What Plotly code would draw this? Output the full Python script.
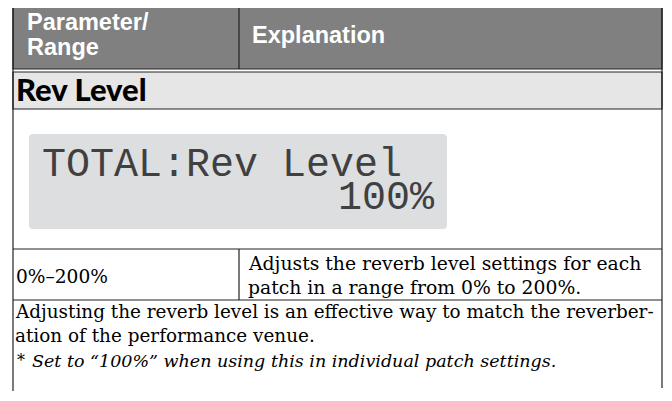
import plotly.graph_objects as go

# ---- content ----
header_labels = ["Parameter/", "Range", "Explanation"]
section_title = "Rev Level"
lcd_lines = ["TOTAL:Rev Level", "100%"]
range_value = "0%–200%"
range_explanation = ["Adjusts the reverb level settings for each",
                     "patch in a range from 0% to 200%."]
note_lines = ["Adjusting the reverb level is an effective way to match the reverber-",
              "ation of the performance venue."]
footnote_mark = "*"
footnote = "Set to “100%” when using this in individual patch settings."

W, H = 672, 401
OFF = 8  # default page body margin
L, R = 13, 662
COL = 239
fig = go.Figure()

shapes = []
def rect(x0, y0, x1, y1, fill, line="#222", lw=1.2):
    shapes.append(dict(type="rect", x0=x0, y0=y0, x1=x1, y1=y1, xref="x", yref="y",
                       fillcolor=fill, line=dict(color=line, width=lw), layer="below"))
def hline(y, x0=L, x1=R):
    shapes.append(dict(type="line", x0=x0, x1=x1, y0=y, y1=y, xref="x", yref="y",
                       line=dict(color="#222", width=1.2)))
def vline(x, y0, y1):
    shapes.append(dict(type="line", x0=x, x1=x, y0=y0, y1=y1, xref="x", yref="y",
                       line=dict(color="#222", width=1.2)))

# header
rect(L, 5, R, 69, "#808080")
vline(COL, 5, 69)
# section row
rect(L, 72, R, 109, "#e6e6e6")
# outer borders
vline(L, 5, 391)
vline(R, 5, 388)
hline(249)
hline(300)
vline(COL, 249, 300)
# LCD box (rounded)
x0, y0, x1, y1, r = 29, 134, 447, 229, 4
path = (f"M {x0+r},{y0} L {x1-r},{y0} Q {x1},{y0} {x1},{y0+r} L {x1},{y1-r} Q {x1},{y1} {x1-r},{y1} "
        f"L {x0+r},{y1} Q {x0},{y1} {x0},{y1-r} L {x0},{y0+r} Q {x0},{y0} {x0+r},{y0} Z")
shapes.append(dict(type="path", path=path, xref="x", yref="y", fillcolor="#dddee0",
                   line=dict(width=0), layer="below"))

ann = []
def text(x, y, s, size, color="black", family="DejaVu Serif", xanchor="left", weight="normal", style="normal"):
    ann.append(dict(x=x, y=y, xref="x", yref="y", text=s, showarrow=False, xanchor=xanchor,
                    yanchor="middle", align="left",
                    font=dict(size=size, color=color, family=family, weight=weight, style=style)))

SANS = "Liberation Sans"
text(25, 22, header_labels[0], 23.5, "white", SANS, weight="bold")
text(25, 47, header_labels[1], 23.5, "white", SANS, weight="bold")
text(250, 35, header_labels[2], 23.5, "white", SANS, weight="bold")
text(14, 89, section_title, 31, "black", "Lato", weight=900)
text(40, 165, lcd_lines[0], 40, "#404040", "Liberation Mono")
text(437, 198, lcd_lines[1], 40, "#404040", "Liberation Mono", xanchor="right")
text(14, 276, range_value, 18.6)
for i, ln in enumerate(range_explanation):
    text(246, 263 + 24 * i, ln, 18.8)
for i, ln in enumerate(note_lines):
    text(13, 311 + 24 * i, ln, 18.4)
text(15, 360, footnote_mark, 16)
text(30, 361, footnote, 17.5, style="italic")

fig.update_layout(width=W - OFF, height=H - OFF, margin=dict(l=0, r=0, t=0, b=0),
                  paper_bgcolor="white", plot_bgcolor="white",
                  xaxis=dict(range=[OFF, W], visible=False, fixedrange=True),
                  yaxis=dict(range=[H, OFF], visible=False, fixedrange=True),
                  shapes=shapes, annotations=ann, showlegend=False)
fig.write_html("out.html")
